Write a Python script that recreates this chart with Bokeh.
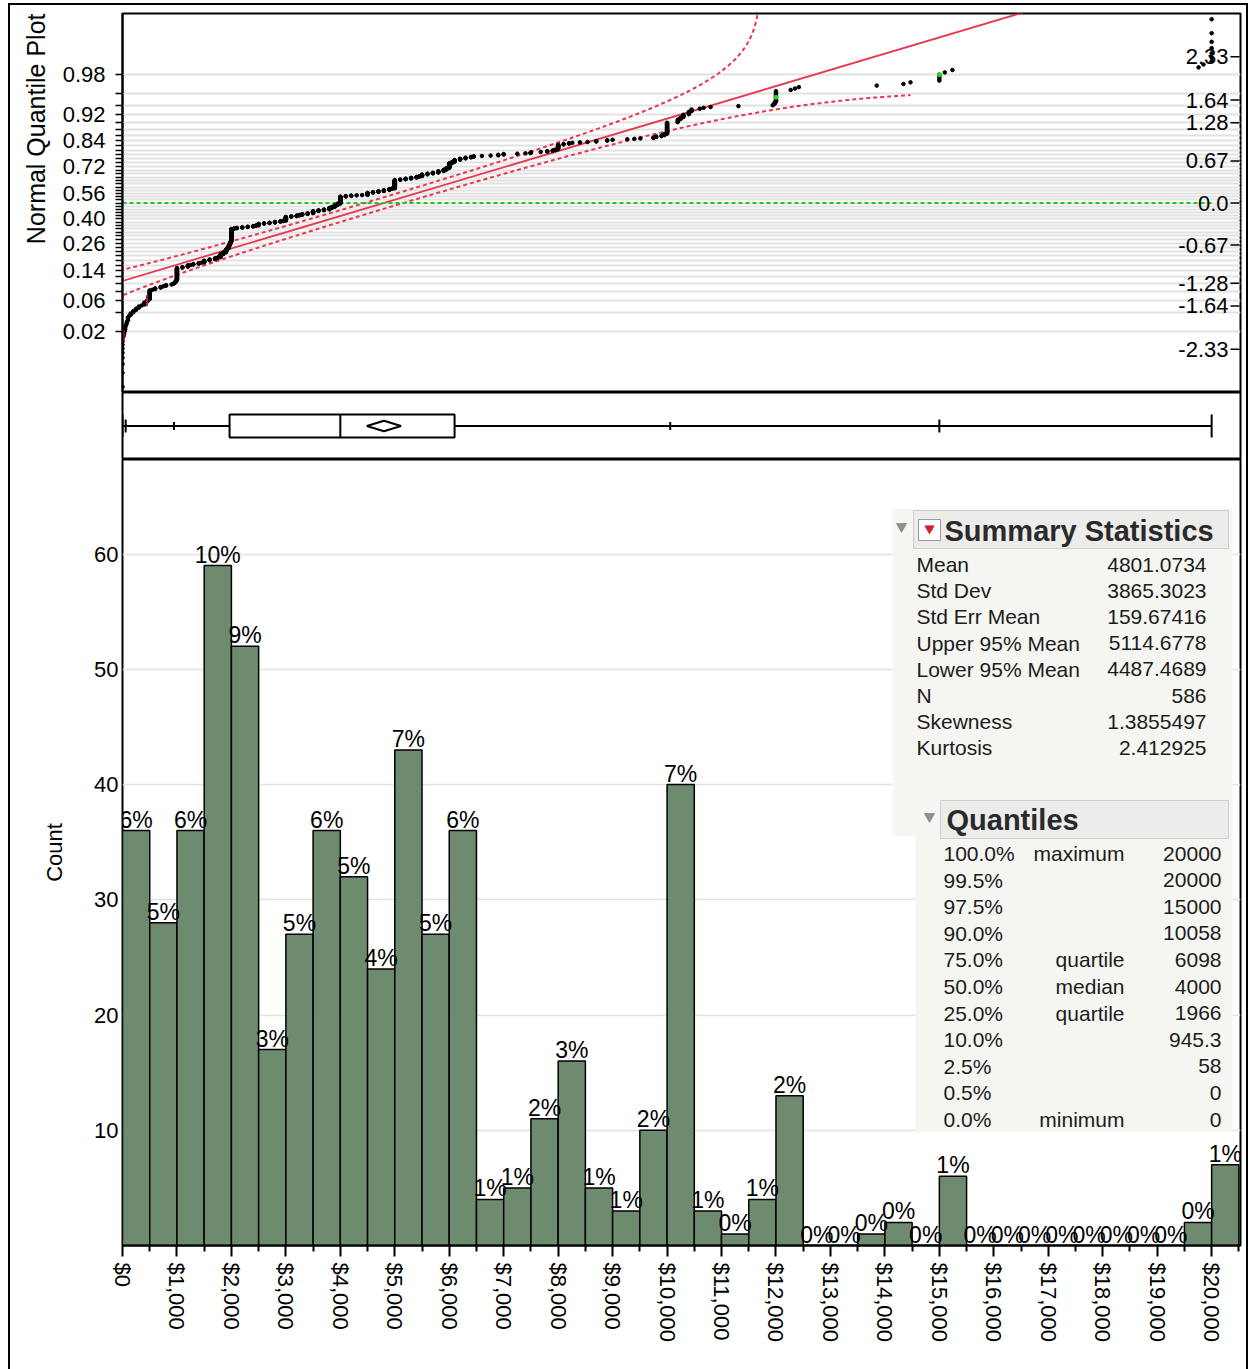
import numpy as np
from statistics import NormalDist
from bokeh.plotting import figure
from bokeh.layouts import column
from bokeh.models import Range1d, FixedTicker, NumeralTickFormatter, Title
from bokeh.core.properties import value
from bokeh.embed import file_html
from bokeh.resources import INLINE

FONT = "Liberation Sans"
nd = NormalDist()

# ---------------- data ----------------
bin_width = 500
bin_starts = list(range(0, 20500, 500))          # 41 bins, $0 .. $20,500
counts = [36, 28, 36, 59, 52, 17, 27, 36, 32, 24, 43, 27, 36,
          4, 5, 11, 16, 5, 3, 10, 40, 3, 1, 4, 13,
          0, 0, 1, 2, 0, 6,
          0, 0, 0, 0, 0, 0, 0, 0,
          2, 7]

runs = [
    (0, 9), (20, 1), (30, 1), (40, 1), (50, 2), (62, 1), (75, 1), (80, 1), (100, 3),
    (120, 1), (150, 2), (200, 2), (250, 2), (300, 2), (350, 1), (400, 3), (450, 2), (480, 1),
    (500, 12), (550, 1), (600, 2), (700, 2), (750, 1), (800, 2), (900, 1), (931, 1), (951, 1), (960, 1), (975, 2), (990, 2),
    (1000, 24), (1100, 2), (1200, 4), (1250, 1), (1300, 2), (1400, 2), (1450, 1),
    (1500, 5), (1600, 3), (1700, 3), (1750, 2), (1800, 8), (1850, 5), (1900, 8), (1920, 4), (1950, 7), (1960, 1),
    (1968, 5), (1980, 4), (1990, 4),
    (2000, 40), (2050, 2), (2100, 2), (2200, 2), (2300, 2), (2400, 2), (2450, 2),
    (2500, 6), (2600, 2), (2700, 2), (2800, 3), (2900, 2), (2950, 2),
    (3000, 14), (3100, 2), (3200, 3), (3250, 2), (3300, 3), (3400, 3),
    (3500, 8), (3600, 3), (3700, 3), (3800, 6), (3850, 4), (3900, 6), (3950, 6),
    (4000, 26), (4100, 2), (4200, 2), (4300, 1), (4400, 1),
    (4500, 8), (4600, 3), (4700, 3), (4800, 4), (4900, 4), (4950, 2),
    (5000, 30), (5100, 2), (5200, 3), (5300, 3), (5400, 3), (5450, 2),
    (5500, 6), (5600, 3), (5700, 3), (5800, 5), (5900, 5), (5950, 5),
    (6000, 15), (6050, 4), (6098, 6), (6200, 4), (6300, 3), (6400, 2), (6450, 2),
    (6600, 1), (6760, 1), (6900, 2),
    (7000, 2), (7250, 1), (7400, 1), (7490, 1),
    (7500, 2), (7680, 1), (7800, 2), (7900, 2), (7950, 2), (7990, 2),
    (8000, 10), (8100, 2), (8200, 2), (8260, 1), (8400, 1),
    (8540, 1), (8700, 2), (8900, 2),
    (9000, 1), (9270, 1), (9400, 1),
    (9510, 1), (9750, 2), (9800, 2), (9900, 2), (9950, 3),
    (10000, 21), (10193, 1), (10200, 4), (10250, 3), (10300, 4), (10400, 4), (10450, 3),
    (10600, 1), (10670, 1), (10800, 1),
    (11310, 1),
    (11940, 1), (11960, 1), (11980, 2),
    (12000, 10), (12270, 1), (12350, 1), (12420, 1),
    (13850, 1),
    (14340, 1), (14470, 1),
    (15000, 4), (15100, 1), (15240, 1),
    (19760, 1), (19850, 1),
    (20000, 7),
]
red_ranks = [10, 35]
green_ranks = [560, 575]

stat_names = ["Mean", "Std Dev", "Std Err Mean", "Upper 95% Mean", "Lower 95% Mean", "N", "Skewness", "Kurtosis"]
stat_texts = ["4801.0734", "3865.3023", "159.67416", "5114.6778", "4487.4689", "586", "1.3855497", "2.412925"]
mean, sd, n_obs, upper95, lower95 = 4801.0734, 3865.3023, 586, 5114.6778, 4487.4689

quant_levels = ["100.0%", "99.5%", "97.5%", "90.0%", "75.0%", "50.0%", "25.0%", "10.0%", "2.5%", "0.5%", "0.0%"]
quant_names = ["maximum", "", "", "", "quartile", "median", "quartile", "", "", "", "minimum"]
quant_texts = ["20000", "20000", "15000", "10058", "6098", "4000", "1966", "945.3", "58", "0", "0"]
quant_values = [20000, 20000, 15000, 10058, 6098, 4000, 1966, 945.3, 58, 0, 0]

prob_ticks = [round(0.02 * k, 2) for k in range(1, 50)]
prob_labels = [0.98, 0.92, 0.84, 0.72, 0.56, 0.40, 0.26, 0.14, 0.06, 0.02]
z_labels = [2.33, 1.64, 1.28, 0.67, 0.0, -0.67, -1.28, -1.64, -2.33]
z_label_texts = ["2.33", "1.64", "1.28", "0.67", "0.0", "-0.67", "-1.28", "-1.64", "-2.33"]
dollar_ticks = list(range(0, 20001, 1000))
dollar_minor = list(range(500, 20501, 1000))
count_ticks = [10, 20, 30, 40, 50, 60]
lower_band_end = 14470

# ---------------- layout helpers (reference page pixels -> data) ----------------
XMAX = 20530
FL, FR = 122, 1240
def xd(px):
    return (px - FL) / (FR - FL) * XMAX

FT3, FB3, YMAX3 = 459, 1245, 68.2
def yd(py):
    return (FB3 - py) / (FB3 - FT3) * YMAX3

x_range = Range1d(0, XMAX)
RED = "#e8384f"
TXT = "#1c1c1c"
W = 1240

def base(p):
    p.outline_line_color = "black"
    p.outline_line_width = 2
    p.outline_line_alpha = 1
    p.background_fill_color = "white"
    p.border_fill_alpha = 0
    p.xgrid.visible = False

# ---------------- normal quantile plot ----------------
p1 = figure(width=W, height=389, x_range=x_range, y_range=Range1d(-3.02, 3.02),
            x_axis_location=None, toolbar_location=None, output_backend="svg", title=None,
            min_border_top=10, min_border_bottom=0, min_border_left=114, min_border_right=8)
base(p1)
z_ticks = [round(nd.inv_cdf(pp), 6) for pp in prob_ticks]
overrides = {}
for pp, zt in zip(prob_ticks, z_ticks):
    overrides[zt] = ("%.2f" % pp) if any(abs(pp - q) < 1e-9 for q in prob_labels) else ""
p1.yaxis.ticker = FixedTicker(ticks=z_ticks, minor_ticks=[])
p1.yaxis.major_label_overrides = overrides
p1.yaxis.major_label_text_font = FONT
p1.yaxis.major_label_text_font_size = "22px"
p1.yaxis.major_label_text_color = "black"
p1.yaxis.major_tick_out = 7
p1.yaxis.major_tick_in = 0
p1.yaxis.major_tick_line_width = 1.5
p1.yaxis.major_label_standoff = 10
p1.yaxis.axis_line_width = 2
p1.ygrid.ticker = FixedTicker(ticks=z_ticks)
p1.ygrid.grid_line_color = "#e2e2e2"
p1.ygrid.grid_line_width = 2
p1.add_layout(Title(text="Normal Quantile Plot", align="right", text_font=FONT, standoff=19,
                    text_font_size="25px", text_font_style="normal", text_color="black"), "left")

values = []
for v, c in runs:
    values += [v] * c
zq = [nd.inv_cdf(r / (len(values) + 1)) for r in range(1, len(values) + 1)]

# confidence bands (Lilliefors) from the statistics
D = 0.886 / np.sqrt(n_obs)
zf_u = np.linspace(-3.5, nd.inv_cdf(1 - D - 1e-6), 500)
yu = [nd.inv_cdf(nd.cdf(z) + D) for z in zf_u]
zf_l = np.linspace(nd.inv_cdf(D + 1e-6), (lower_band_end - mean) / sd, 500)
yl = [nd.inv_cdf(nd.cdf(z) - D) for z in zf_l]
p1.line(mean + sd * zf_u, yu, line_color=RED, line_width=2, line_dash="4 3")
p1.line(mean + sd * zf_l, yl, line_color=RED, line_width=2, line_dash="4 3")
p1.line([mean - 3.5 * sd, mean + 3.5 * sd], [-3.5, 3.5], line_color=RED, line_width=1.8)
p1.line([quant_values[-1], quant_values[0]], [0, 0], line_color="#1ec81e", line_width=2, line_dash="4 3")

p1.scatter(values, zq, size=3.6, color="black")
p1.scatter([values[r - 1] for r in red_ranks], [zq[r - 1] for r in red_ranks],
           marker="dash", angle=np.pi / 2, size=11, line_color="#b0203a", line_width=2)
p1.scatter([values[r - 1] for r in green_ranks], [zq[r - 1] for r in green_ranks],
           size=4, color="#22dd22")

# right-side z labels inside the frame
p1.text(x=[XMAX] * len(z_labels), y=z_labels, text=z_label_texts, x_offset=-12,
        text_align="right", text_baseline="middle", text_font=value(FONT),
        text_font_size="22px", text_color="black")
p1.segment(x0=[xd(1230)] * len(z_labels), y0=z_labels, x1=[xd(1239)] * len(z_labels), y1=z_labels,
           line_color="black", line_width=1.5)

# ---------------- box plot ----------------
p2 = figure(width=W, height=67, x_range=x_range, y_range=Range1d(-33.5, 33.5),
            x_axis_location=None, y_axis_location=None, toolbar_location=None,
            output_backend="svg", title=None,
            min_border_top=0, min_border_bottom=0, min_border_left=114, min_border_right=8)
base(p2)
p2.ygrid.visible = False
q_max, q975, q90, q75, q50, q25, q10, q025, q_min = (quant_values[0], quant_values[2], quant_values[3],
                                                    quant_values[4], quant_values[5], quant_values[6],
                                                    quant_values[7], quant_values[8], quant_values[10])
p2.line([q_min, q_max], [0, 0], line_color="black", line_width=2)
tick_x = [q_min, q025, q10, q90, q975, q_max]
tick_h = [11.5, 6.5, 4, 4, 6.5, 11.5]
p2.segment(x0=tick_x, y0=[-h for h in tick_h], x1=tick_x, y1=tick_h, line_color="black", line_width=2)
p2.quad(left=[q25], right=[q75], bottom=[-11.5], top=[11.5], fill_color="white",
        line_color="black", line_width=2)
p2.segment(x0=[q50], y0=[-11.5], x1=[q50], y1=[11.5], line_color="black", line_width=2)
p2.patch([lower95, mean, upper95, mean], [0, 5.3, 0, -5.3], fill_color="white",
         line_color="black", line_width=2)

# ---------------- histogram ----------------
p3 = figure(width=W, height=910, x_range=x_range, y_range=Range1d(0, YMAX3),
            toolbar_location=None, output_backend="svg", title=None,
            min_border_top=0, min_border_bottom=124, min_border_left=114, min_border_right=8)
base(p3)
p3.ygrid.ticker = FixedTicker(ticks=count_ticks)
p3.ygrid.grid_line_color = "#e2e2e2"
p3.ygrid.grid_line_width = 1.5
p3.yaxis.ticker = FixedTicker(ticks=count_ticks, minor_ticks=[])
p3.yaxis.major_tick_out = 0
p3.yaxis.major_tick_in = 0
p3.yaxis.major_label_standoff = 4
p3.yaxis.axis_line_color = None
p3.yaxis.major_label_text_font = FONT
p3.yaxis.major_label_text_font_size = "22px"
p3.yaxis.major_label_text_color = "black"
p3.yaxis.axis_label = "Count"
p3.yaxis.axis_label_text_font = FONT
p3.yaxis.axis_label_text_font_size = "22px"
p3.yaxis.axis_label_text_font_style = "normal"
p3.yaxis.axis_label_text_color = "black"
p3.yaxis.axis_label_standoff = 24

p3.xaxis.ticker = FixedTicker(ticks=dollar_ticks, minor_ticks=dollar_minor)
p3.xaxis.formatter = NumeralTickFormatter(format="$0,0")
p3.xaxis.major_label_orientation = "vertical"
p3.xaxis.major_label_text_font = FONT
p3.xaxis.major_label_text_font_size = "22px"
p3.xaxis.major_label_text_color = "black"
p3.xaxis.major_label_standoff = 6
p3.xaxis.major_tick_out = 11
p3.xaxis.major_tick_in = 0
p3.xaxis.minor_tick_out = 6
p3.xaxis.minor_tick_in = 0
p3.xaxis.axis_line_width = 2
p3.xaxis.major_tick_line_width = 2
p3.xaxis.minor_tick_line_width = 2

lefts = bin_starts
rights = [s + bin_width for s in bin_starts]
p3.quad(left=lefts, right=rights, bottom=0, top=counts, fill_color="#6f8b6f",
        line_color="black", line_width=1.5)
total = sum(counts)
pct = ["%d%%" % round(c / total * 100) for c in counts]
centers = [s + bin_width / 2 for s in bin_starts]
p3.text(x=centers, y=counts, text=pct, text_align="center", text_baseline="bottom",
        y_offset=2, text_font=value(FONT), text_font_size="23px", text_color="black")

# ---- Summary Statistics / Quantiles panels ----
PANEL = "#f5f5f2"
HEAD = "#ececea"
p3.quad(left=[xd(892)], right=[xd(1232)], bottom=[yd(836)], top=[yd(508)],
        fill_color=PANEL, line_color=None)
p3.quad(left=[xd(915)], right=[xd(1232)], bottom=[yd(1131)], top=[yd(797)],
        fill_color=PANEL, line_color=None)
p3.quad(left=[xd(913)], right=[xd(1228)], bottom=[yd(548)], top=[yd(510)],
        fill_color=HEAD, line_color="#cfcfcf", line_width=1)
p3.quad(left=[xd(940)], right=[xd(1228)], bottom=[yd(838)], top=[yd(800)],
        fill_color=HEAD, line_color="#cfcfcf", line_width=1)
p3.scatter([xd(901), xd(929)], [yd(526), yd(816)], marker="inverted_triangle", size=10,
           color="#8f8f8f")
p3.quad(left=[xd(918)], right=[xd(940)], bottom=[yd(540)], top=[yd(519)],
        fill_color="white", line_color="#9a9a9a", line_width=1)
p3.scatter([xd(929)], [yd(528)], marker="inverted_triangle", size=9, color="#d0202e")
p3.text(x=[xd(944)], y=[yd(530)], text=["Summary Statistics"], text_align="left",
        text_baseline="middle", text_font=value(FONT), text_font_size="29px",
        text_font_style="bold", text_color="#2a2a2a")
p3.text(x=[xd(946)], y=[yd(819)], text=["Quantiles"], text_align="left",
        text_baseline="middle", text_font=value(FONT), text_font_size="29px",
        text_font_style="bold", text_color="#2a2a2a")

srow_y = [yd(564 + 26.2 * k) for k in range(len(stat_names))]
p3.text(x=[xd(916)] * len(stat_names), y=srow_y, text=stat_names, text_align="left",
        text_baseline="middle", text_font=value(FONT), text_font_size="21px", text_color=TXT)
p3.text(x=[xd(1206)] * len(stat_texts), y=srow_y, text=stat_texts, text_align="right",
        text_baseline="middle", text_font=value(FONT), text_font_size="21px", text_color=TXT)

qrow_y = [yd(853 + 26.6 * k) for k in range(len(quant_levels))]
p3.text(x=[xd(943)] * len(quant_levels), y=qrow_y, text=quant_levels, text_align="left",
        text_baseline="middle", text_font=value(FONT), text_font_size="21px", text_color=TXT)
p3.text(x=[xd(1124)] * len(quant_names), y=qrow_y, text=quant_names, text_align="right",
        text_baseline="middle", text_font=value(FONT), text_font_size="21px", text_color=TXT)
p3.text(x=[xd(1221)] * len(quant_texts), y=qrow_y, text=quant_texts, text_align="right",
        text_baseline="middle", text_font=value(FONT), text_font_size="21px", text_color=TXT)

layout = column(p1, p2, p3, spacing=0,
                styles={"margin-left": "8px", "margin-top": "3px",
                        "box-shadow": "inset 2px 2px 0 0 black, inset -2px 0 0 0 black"})
open("out.html", "w").write(file_html(layout, INLINE))
